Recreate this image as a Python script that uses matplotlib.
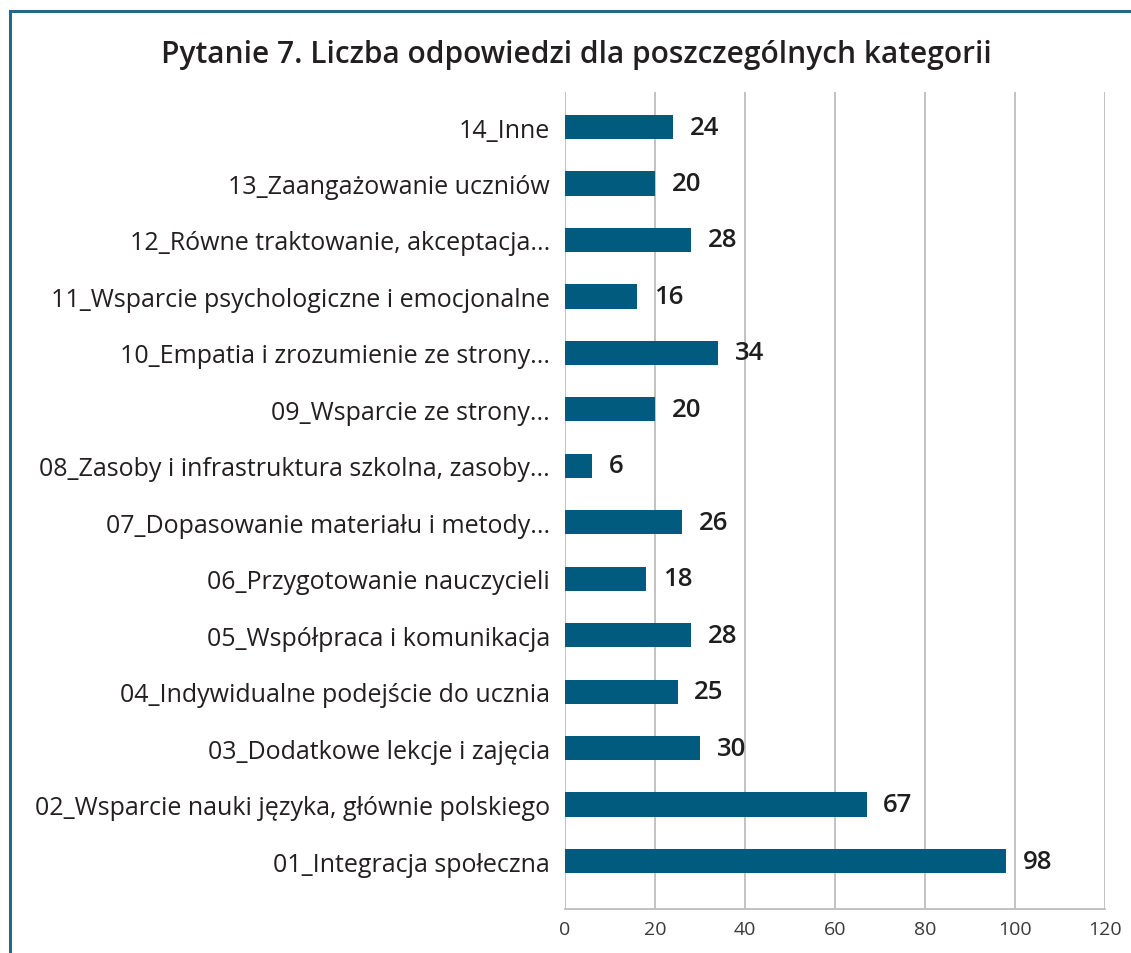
import matplotlib.pyplot as plt
from matplotlib.lines import Line2D

# Dane z wykresu (od dołu do góry)
kategorie = [
    "01_Integracja społeczna",
    "02_Wsparcie nauki języka, głównie polskiego",
    "03_Dodatkowe lekcje i zajęcia",
    "04_Indywidualne podejście do ucznia",
    "05_Współpraca i komunikacja",
    "06_Przygotowanie nauczycieli",
    "07_Dopasowanie materiału i metody...",
    "08_Zasoby i infrastruktura szkolna, zasoby...",
    "09_Wsparcie ze strony...",
    "10_Empatia i zrozumienie ze strony...",
    "11_Wsparcie psychologiczne i emocjonalne",
    "12_Równe traktowanie, akceptacja...",
    "13_Zaangażowanie uczniów",
    "14_Inne",
]
liczby = [98, 67, 30, 25, 28, 18, 26, 6, 20, 34, 16, 28, 20, 24]
x_ticks = [0, 20, 40, 60, 80, 100, 120]

KOLOR = "#005B7F"
RAMKA = "#1F6A86"

plt.rcParams["font.family"] = ["Open Sans", "DejaVu Sans"]

fig = plt.figure(figsize=(11.31, 9.54), dpi=100)
ax = fig.add_axes([0.4996, 0.0461, 0.4775, 0.8564])

pos = list(range(len(kategorie)))
ax.barh(pos, liczby, height=0.43, color=KOLOR, zorder=3)

for p, v in zip(pos, liczby):
    ax.annotate(str(v), xy=(v, p), xytext=(12, 0), textcoords="offset points",
                va="center", ha="left", fontsize=18.5, fontweight="semibold",
                color="#1E1E1E")

ax.set_xlim(0, 120)
ax.set_ylim(-0.85, 13.62)
ax.set_xticks(x_ticks)
ax.set_xticklabels([str(t) for t in x_ticks], fontsize=14, color="#3a3a3a")
ax.set_yticks(pos)
ax.set_yticklabels(kategorie, fontsize=18, color="#231F20")
ax.tick_params(axis="both", length=0)
ax.tick_params(axis="y", pad=11)
ax.tick_params(axis="x", pad=8)

ax.grid(axis="x", color="#BDBDBD", linewidth=1.3, zorder=0)
for s in ["top", "right", "left"]:
    ax.spines[s].set_visible(False)
ax.spines["bottom"].set_color("#BDBDBD")
ax.spines["bottom"].set_linewidth(1.3)

fig.text(0.51, 0.942, "Pytanie 7. Liczba odpowiedzi dla poszczególnych kategorii",
         ha="center", va="center", fontsize=21.5, fontweight="semibold",
         color="#231F20")

# ramka
lx = 9.5 / 1131
ty = 1 - 11.5 / 954
fig.add_artist(Line2D([lx, lx], [0, ty], color=RAMKA, linewidth=2.2,
                      transform=fig.transFigure))
fig.add_artist(Line2D([lx, 1], [ty, ty], color=RAMKA, linewidth=2.2,
                      transform=fig.transFigure))

fig.savefig("out.png", dpi=100)
